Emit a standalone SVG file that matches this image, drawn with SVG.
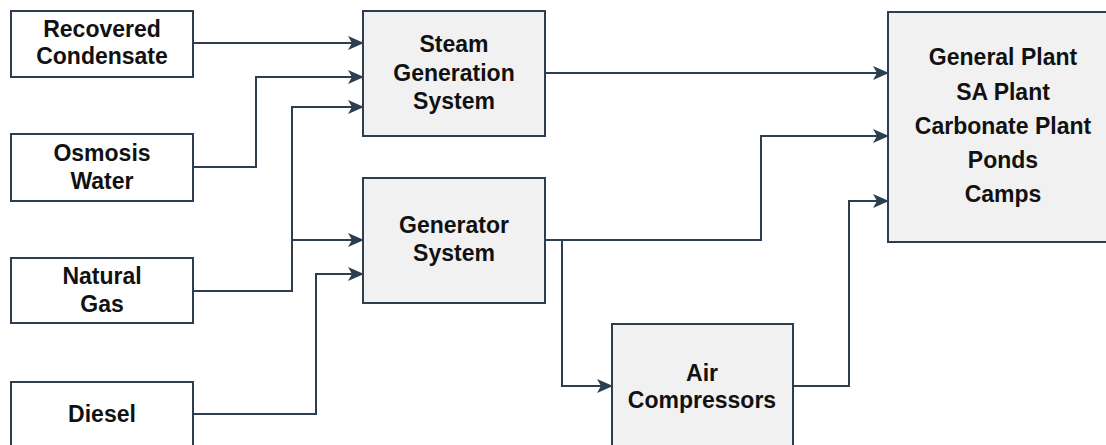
<svg xmlns="http://www.w3.org/2000/svg" width="1106" height="445" viewBox="0 0 1106 445">
<style>
.in{fill:#ffffff;stroke:#2c3e50;stroke-width:2}
.pr{fill:#f1f1f1;stroke:#2c3e50;stroke-width:2}
.t{font-family:"Liberation Sans",Arial,sans-serif;font-weight:bold;font-size:23px;fill:#111111;text-anchor:middle}
.c{fill:none;stroke:#2c3e50;stroke-width:2}
</style>
<defs>
<marker id="ah" markerUnits="userSpaceOnUse" markerWidth="16" markerHeight="16" refX="15" refY="8" orient="auto">
<path d="M0,1 L16,8 L0,15 L4,8 z" fill="#2c3e50"/>
</marker>
</defs>
<g id="connectors">
<path class="c" marker-end="url(#ah)" d="M193,43 H363"/>
<path class="c" marker-end="url(#ah)" d="M193,167 H256 V77 H363"/>
<path class="c" marker-end="url(#ah)" d="M193,291 H292 V107 H363"/>
<path class="c" marker-end="url(#ah)" d="M292,240 H363"/>
<path class="c" marker-end="url(#ah)" d="M193,414 H316 V274 H363"/>
<path class="c" marker-end="url(#ah)" d="M545,73 H888"/>
<path class="c" marker-end="url(#ah)" d="M545,240 H761 V136 H888"/>
<path class="c" marker-end="url(#ah)" d="M562,240 V386 H612"/>
<path class="c" marker-end="url(#ah)" d="M793,386 H849 V201 H888"/>
</g>
<g id="recovered-condensate">
<rect class="in" x="11" y="11" width="182" height="66"/>
<text class="t" x="102" y="37">Recovered</text>
<text class="t" x="102" y="64">Condensate</text>
</g>
<g id="osmosis-water">
<rect class="in" x="11" y="134" width="182" height="67"/>
<text class="t" x="102" y="161">Osmosis</text>
<text class="t" x="102" y="189">Water</text>
</g>
<g id="natural-gas">
<rect class="in" x="11" y="258" width="182" height="65"/>
<text class="t" x="102" y="284">Natural</text>
<text class="t" x="102" y="312">Gas</text>
</g>
<g id="diesel">
<rect class="in" x="11" y="382" width="182" height="70"/>
<text class="t" x="102" y="422">Diesel</text>
</g>
<g id="steam-generation">
<rect class="pr" x="363" y="11" width="182" height="125"/>
<text class="t" x="454" y="52">Steam</text>
<text class="t" x="454" y="81">Generation</text>
<text class="t" x="454" y="109">System</text>
</g>
<g id="generator-system">
<rect class="pr" x="363" y="178" width="182" height="125"/>
<text class="t" x="454" y="233">Generator</text>
<text class="t" x="454" y="261">System</text>
</g>
<g id="air-compressors">
<rect class="pr" x="612" y="324" width="181" height="130"/>
<text class="t" x="702" y="381">Air</text>
<text class="t" x="702" y="408">Compressors</text>
</g>
<g id="plant">
<rect class="pr" x="888" y="12" width="232" height="230"/>
<text class="t" x="1003" y="65">General Plant</text>
<text class="t" x="1003" y="100">SA Plant</text>
<text class="t" x="1003" y="134">Carbonate Plant</text>
<text class="t" x="1003" y="168">Ponds</text>
<text class="t" x="1003" y="202">Camps</text>
</g>
</svg>
